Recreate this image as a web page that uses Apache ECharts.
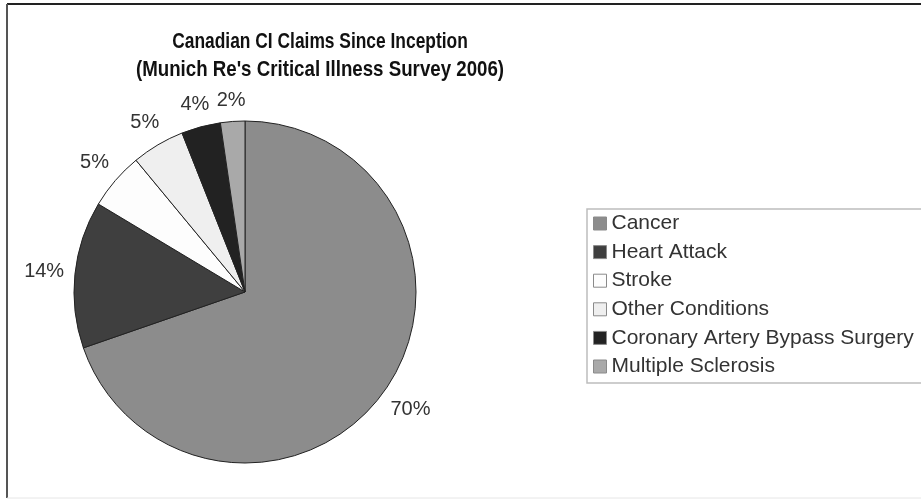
<!DOCTYPE html>
<html><head><meta charset="utf-8">
<script src="https://cdn.jsdelivr.net/npm/echarts@6/dist/echarts.min.js"></script>
<style>html,body{margin:0;padding:0;background:#fff}#c{width:921px;height:499px}</style>
</head><body><div id="c"></div>
<script>
var categories = ["Cancer","Heart Attack","Stroke","Other Conditions","Coronary Artery Bypass Surgery","Multiple Sclerosis"];
var values = [69.7,13.9,5.4,5.0,3.7,2.3];
var colors = ["#8c8c8c","#3f3f3f","#fdfdfd","#efefef","#222222","#a9a9a9"];
var titleLine1 = "Canadian CI Claims Since Inception";
var titleLine2 = "(Munich Re's Critical Illness Survey 2006)";

var data = categories.map(function(c,i){return {name:c,value:values[i],itemStyle:{color:colors[i]}};});
var chart = echarts.init(document.getElementById('c'));
chart.setOption({
  animation:false,
  backgroundColor:'#fff',
  legend:{orient:'vertical',left:587,top:209,itemWidth:13,itemHeight:13,itemGap:7.6,
    icon:'rect',borderColor:'#bdbdbd',borderWidth:1.5,padding:[4,60,6,6],
    itemStyle:{borderColor:'#8a8a8a',borderWidth:1},
    textStyle:{fontFamily:'Liberation Sans',fontSize:21,color:'#333'},
    data:categories},
  series:[{type:'pie',center:[245,292],radius:171,startAngle:90,clockwise:true,
    avoidLabelOverlap:false,
    data:data,
    itemStyle:{borderColor:'#222',borderWidth:1},
    label:{show:true,position:'outside',formatter:function(p){return Math.round(p.percent)+'%';},
      fontFamily:'Liberation Sans',fontSize:20,color:'#333'},
    labelLine:{show:true,length:10,length2:0,lineStyle:{opacity:0}},
    labelLayout:function(p){
      var pts=p.labelLinePoints;
      if(!pts||pts.length<2) return {};
      var dx=pts[1][0]-pts[0][0], dy=pts[1][1]-pts[0][1];
      var len=Math.sqrt(dx*dx+dy*dy)||1; dx/=len; dy/=len;
      var w=p.labelRect.width, h=p.labelRect.height;
      var off=Math.abs(dx)*w/2+Math.abs(dy)*h/2;
      return {x:pts[1][0]+dx*off,y:pts[1][1]+dy*off,align:'center',verticalAlign:'middle'};
    },
    emphasis:{disabled:true}}],
  graphic:[
    {type:'text',x:320,y:28,scaleX:0.79,silent:true,
      style:{text:titleLine1,font:"bold 22px 'Liberation Sans'",lineHeight:28,align:'center',verticalAlign:'top',fill:'#111'}},
    {type:'text',x:320,y:56,scaleX:0.85,silent:true,
      style:{text:titleLine2,font:"bold 22px 'Liberation Sans'",lineHeight:28,align:'center',verticalAlign:'top',fill:'#111'}},
    {type:'line',shape:{x1:7,y1:4,x2:921,y2:4},style:{stroke:'#222',lineWidth:2},silent:true},
    {type:'line',shape:{x1:7,y1:4,x2:7,y2:498},style:{stroke:'#555',lineWidth:2},silent:true},
    {type:'line',shape:{x1:7,y1:498,x2:921,y2:498},style:{stroke:'#e6e6e6',lineWidth:1},silent:true}
  ]
});
</script></body></html>
